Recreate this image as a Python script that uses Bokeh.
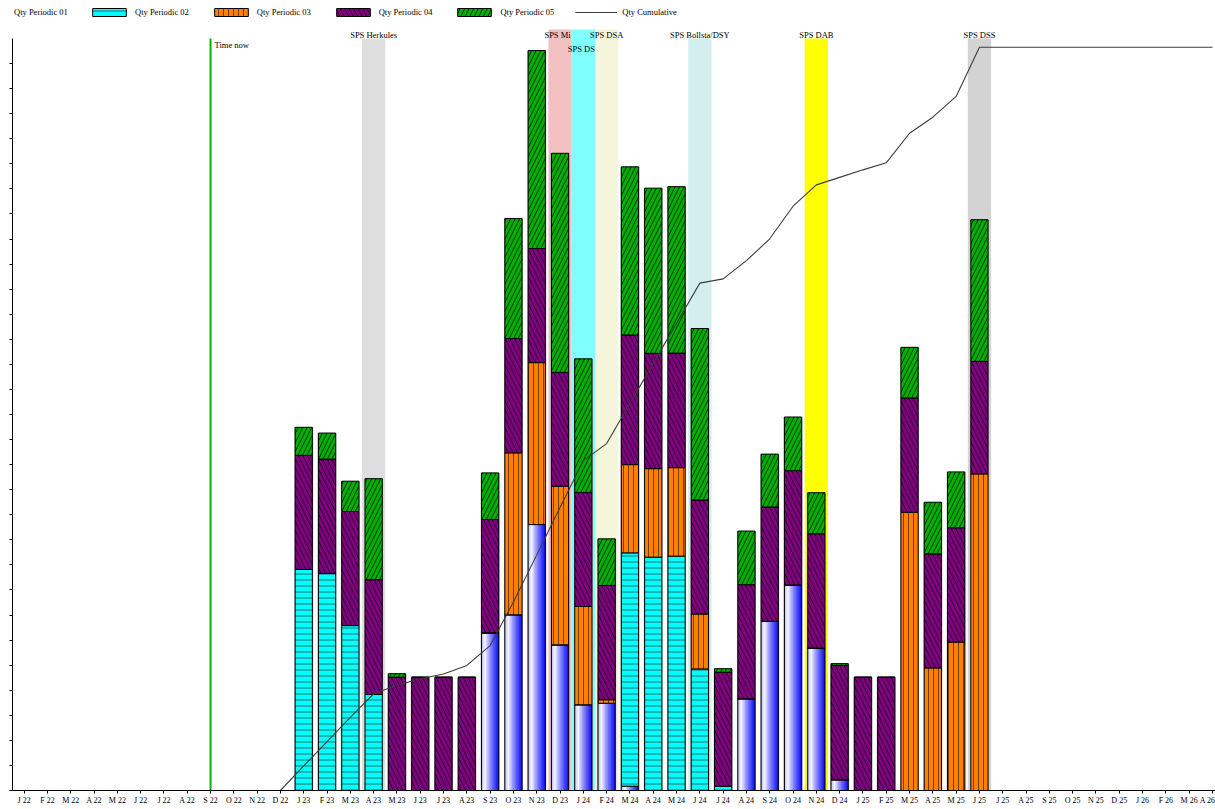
from bokeh.plotting import figure
from bokeh.models import (ColumnDataSource, Range1d, FixedTicker, Legend, LegendItem,
                          CustomJSTickFormatter)
from bokeh.transform import stack, dodge
from bokeh.core.properties import value
from bokeh.embed import file_html
from bokeh.resources import INLINE

NaN = float("nan")

# ---------------- data ----------------
month_labels = ["J 22", "F 22", "M 22", "A 22", "M 22", "J 22", "J 22", "A 22", "S 22", "O 22", "N 22", "D 22",
                "J 23", "F 23", "M 23", "A 23", "M 23", "J 23", "J 23", "A 23", "S 23", "O 23", "N 23", "D 23",
                "J 24", "F 24", "M 24", "A 24", "M 24", "J 24", "J 24", "A 24", "S 24", "O 24", "N 24", "D 24",
                "J 25", "F 25", "M 25", "A 25", "M 25", "J 25", "J 25", "A 25", "S 25", "O 25", "N 25", "D 25",
                "J 26", "F 26", "M 26", "A 26"]

qty_p01 = [0]*12 + [0, 0, 0, 0, 0, 0, 0, 0, 6.29, 7.01, 10.61, 5.81, 3.42, 3.48, 0.17, 0, 0, 0, 0,
                    3.66, 6.75, 8.20, 5.68, 0.43, 0, 0, 0, 0, 0, 0] + [0]*10
qty_p02 = [0]*12 + [8.82, 8.66, 6.58, 3.83, 0, 0, 0, 0, 0, 0, 0, 0, 0, 0, 9.31, 9.31, 9.35, 4.85, 0.17,
                    0, 0, 0, 0, 0, 0, 0, 0, 0, 0, 0] + [0]*10
qty_p03 = [0]*12 + [0, 0, 0, 0, 0, 0, 0, 0, 0, 6.46, 6.46, 6.33, 3.92, 0.14, 3.52, 3.53, 3.53, 2.19, 0,
                    0, 0, 0, 0, 0, 0, 0, 11.10, 4.89, 5.92, 12.63] + [0]*10
qty_p04 = [0]*12 + [4.55, 4.56, 4.55, 4.58, 4.52, 4.52, 4.52, 4.52, 4.52, 4.56, 4.55, 4.54, 4.55, 4.56,
                    5.17, 4.60, 4.57, 4.55, 4.55, 4.55, 4.56, 4.56, 4.56, 4.56, 4.52, 4.52, 4.56, 4.55,
                    4.56, 4.49] + [0]*10
qty_p05 = [0]*12 + [1.12, 1.04, 1.21, 4.03, 0.14, 0, 0, 0, 1.86, 4.79, 7.90, 8.74, 5.33, 1.86, 6.71,
                    6.59, 6.64, 6.84, 0.14, 2.14, 2.11, 2.14, 1.64, 0.07, 0, 0, 2.02, 2.06, 2.23,
                    5.65] + [0]*10
qty_cumulative = [NaN]*11 + [0, 0.98, 1.95, 2.92, 3.86, 4.20, 4.46, 4.65, 4.99, 5.78, 7.52, 9.40, 11.29,
                             13.16, 13.84, 15.45, 17.04, 18.64, 20.24, 20.41, 21.14, 22.01, 23.31, 24.16,
                             24.46, 24.76, 25.04, 26.22, 26.86, 27.69, 29.65] + [29.65]*10

band_names = ["SPS Herkules", "SPS Mi", "SPS DS", "SPS DSA", "SPS Bollsta/DSY", "SPS DAB", "SPS DSS"]
band_months = [15, 23, 24, 25, 29, 34, 41]
band_colors = ["#dedede", "#f2c0c0", "#80ffff", "#f5f5dc", "#d2eeee", "#ffff00", "#d3d3d3"]

time_now_month = 8
time_now_label = "Time now"

series_labels = ["Qty Periodic 01", "Qty Periodic 02", "Qty Periodic 03", "Qty Periodic 04",
                 "Qty Periodic 05", "Qty Cumulative"]

# ---------------- layout constants ----------------
FONT = "Liberation Serif"
FIG_W, FIG_H = 1215, 809
LEFT, BOTTOM = 12, 19
AXIS_TOP = 30
FRAME_H = FIG_H - BOTTOM            # frame spans fig y 0 .. 790
AXIS_TOP_PX = 38                    # where the axis ends (from top)
Y_TOP = AXIS_TOP * FRAME_H / (FRAME_H - AXIS_TOP_PX)
MONTH_PX = 23.3
X_END = -0.5 + (FIG_W - LEFT) / MONTH_PX
W = 0.74

months = list(range(len(month_labels)))
keep = [i for i in months if (qty_p01[i] + qty_p02[i] + qty_p03[i] + qty_p04[i] + qty_p05[i]) > 0]
src = ColumnDataSource(dict(
    x=[months[i] for i in keep],
    p01=[qty_p01[i] for i in keep],
    p02=[qty_p02[i] for i in keep],
    p03=[qty_p03[i] for i in keep],
    p04=[qty_p04[i] for i in keep],
    p05=[qty_p05[i] for i in keep],
))

p = figure(width=FIG_W, height=FIG_H, output_backend="svg", toolbar_location=None,
           x_range=Range1d(-0.5, X_END), y_range=Range1d(0, Y_TOP),
           min_border_left=LEFT, min_border_right=0, min_border_top=0, min_border_bottom=BOTTOM)
p.background_fill_color = "white"
p.border_fill_color = "white"
p.outline_line_color = None
p.xgrid.grid_line_color = None
p.ygrid.grid_line_color = None

# ---------------- bands ----------------
nb = len(band_months)
rows = []
for j, m in enumerate(band_months):
    adj_prev = j > 0 and band_months[j - 1] == m - 1
    rows.append((1 - rows[-1]) if adj_prev else 0)
for j, m in enumerate(band_months):
    adj_prev = j > 0 and band_months[j - 1] == m - 1
    adj_next = j < nb - 1 and band_months[j + 1] == m + 1
    top = AXIS_TOP + (0.36 if (adj_prev or adj_next) else 0)
    bsrc = ColumnDataSource(dict(left=[m - 0.5], right=[m + 0.5], bottom=[0], top=[top],
                                 x=[m - 0.5 if adj_next else m], y=[AXIS_TOP], t=[band_names[j]]))
    p.quad(left="left", right="right", bottom="bottom", top="top", source=bsrc,
           fill_color=band_colors[j], line_color=None)
    p.text(x="x", y="y", text="t", source=bsrc, text_font=value(FONT), text_font_size=value("8.5px"),
           text_align="left" if adj_next else "center", text_baseline="middle",
           x_offset=-4 if adj_next else 0, y_offset=-4 if rows[j] == 0 else 10, text_color="black")

# ---------------- time now ----------------
tsrc = ColumnDataSource(dict(x=[time_now_month], y0=[0], y1=[AXIS_TOP], t=[time_now_label]))
p.segment(x0="x", y0="y0", x1="x", y1="y1", source=tsrc, line_color="#00b400", line_width=2)
p.text(x="x", y="y1", text="t", source=tsrc, text_font=value(FONT), text_font_size=value("8.5px"),
       text_align="left", text_baseline="middle", x_offset=4, y_offset=6, text_color="black")

# ---------------- bars ----------------
p.vbar(x="x", width=W + 0.08, bottom=0, top=stack("p01", "p02", "p03", "p04", "p05"), source=src,
       fill_color="#bcbcbc", line_color=None)

N = 12
def grad(t):
    c0, cw, c1 = (190, 190, 255), (248, 248, 255), (10, 10, 250)
    if t < 0.22:
        f = t / 0.22
        a, b = c0, cw
    else:
        f = ((t - 0.22) / 0.78) ** 0.8
        a, b = cw, c1
    r, g, bl = [int(round(a[i] + (b[i] - a[i]) * f)) for i in range(3)]
    return "#%02x%02x%02x" % (r, g, bl)

for k in range(N):
    left = -W / 2 + k * W / N
    right = min(W / 2, left + 1.6 * W / N)
    p.vbar(x=dodge("x", (left + right) / 2), width=right - left, bottom=0, top="p01", source=src,
           fill_color=grad((k + 0.5) / N), line_color=None)
p.vbar(x="x", width=W, bottom=0, top="p01", source=src, fill_color=None, line_color="black", line_width=1)

common = dict(x="x", width=W, source=src, line_color="black", line_width=1, hatch_weight=1)
r2 = p.vbar(bottom=stack("p01"), top=stack("p01", "p02"), fill_color="#00ffff",
            hatch_pattern="-", hatch_color="#2e6a6a", hatch_scale=6, **common)
r3 = p.vbar(bottom=stack("p01", "p02"), top=stack("p01", "p02", "p03"), fill_color="#ff8000",
            hatch_pattern="|", hatch_color="#7a3d00", hatch_scale=5, **common)
r4 = p.vbar(bottom=stack("p01", "p02", "p03"), top=stack("p01", "p02", "p03", "p04"), fill_color="#800080",
            hatch_pattern="\\", hatch_color="#2a002a", hatch_scale=9, **common)
r5 = p.vbar(bottom=stack("p01", "p02", "p03", "p04"), top=stack("p01", "p02", "p03", "p04", "p05"),
            fill_color="#00b000", hatch_pattern="/", hatch_color="#003000", hatch_scale=9, **common)

# ---------------- cumulative ----------------
csrc = ColumnDataSource(dict(x=months, y=qty_cumulative))
rc = p.line(x="x", y="y", source=csrc, line_color="#3c3c3c", line_width=1.1)

dummy = p.vbar(x=[], top=[], width=W, fill_alpha=0, line_alpha=0)

# ---------------- axes ----------------
p.yaxis.ticker = FixedTicker(ticks=list(range(0, AXIS_TOP)))
p.yaxis.bounds = (0, AXIS_TOP)
p.yaxis.formatter = CustomJSTickFormatter(code="return ''")
p.yaxis.major_label_text_font_size = "0px"
p.yaxis.major_label_standoff = 0
p.yaxis.major_tick_in = 0
p.yaxis.major_tick_out = 3
p.yaxis.minor_tick_line_color = None
p.yaxis.axis_line_color = "black"
p.yaxis.major_tick_line_color = "black"

p.xaxis.ticker = FixedTicker(ticks=months)
p.xaxis.major_label_overrides = {i: month_labels[i] for i in months}
p.xaxis.major_label_text_font = FONT
p.xaxis.major_label_text_font_size = "8px"
p.xaxis.major_label_text_color = "black"
p.xaxis.major_label_standoff = 2
p.xaxis.major_tick_in = 0
p.xaxis.major_tick_out = 3
p.xaxis.minor_tick_line_color = None
p.xaxis.axis_line_color = "black"
p.xaxis.major_tick_line_color = "black"

# ---------------- legends ----------------
LY = FRAME_H - 17
leg_common = dict(orientation="horizontal", padding=0, margin=0, border_line_color=None,
                  background_fill_alpha=0, label_text_font=FONT, label_text_font_size="8.5px",
                  label_text_color="black", glyph_height=10, label_height=10)
leg1 = Legend(items=[LegendItem(label=series_labels[0], renderers=[dummy])], location=(2, LY),
              glyph_width=0, label_standoff=0, **leg_common)
leg2 = Legend(items=[LegendItem(label=series_labels[1], renderers=[r2]),
                     LegendItem(label=series_labels[2], renderers=[r3]),
                     LegendItem(label=series_labels[3], renderers=[r4]),
                     LegendItem(label=series_labels[4], renderers=[r5]),
                     LegendItem(label=series_labels[5], renderers=[rc])],
              location=(76, LY), glyph_width=42, label_standoff=5, spacing=21, **leg_common)
p.add_layout(leg1)
p.add_layout(leg2)

open("out.html", "w").write(file_html(p, INLINE))
